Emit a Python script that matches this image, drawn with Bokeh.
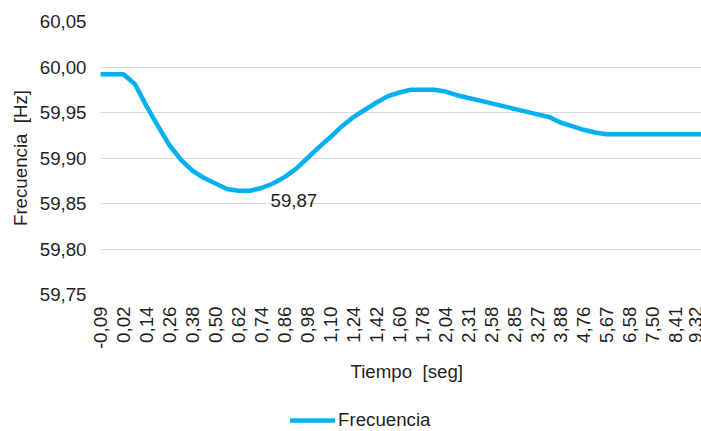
import numpy as np
from bokeh.plotting import figure
from bokeh.layouts import column
from bokeh.models import (FixedTicker, Range1d, Legend, LegendItem, Title,
                          ColumnDataSource)
from bokeh.core.properties import value
from bokeh.embed import file_html
from bokeh.resources import INLINE

# ---- data ----
tiempo_labels = ["-0,09", "0,02", "0,14", "0,26", "0,38", "0,50", "0,62", "0,74",
                 "0,86", "0,98", "1,10", "1,24", "1,42", "1,60", "1,78", "2,04",
                 "2,31", "2,58", "2,85", "3,27", "3,88", "4,76", "5,67", "6,58",
                 "7,50", "8,41", "9,32"]
# frequency sampled twice per labelled category interval
frecuencia = [59.992, 59.992, 59.992, 59.981, 59.957, 59.935, 59.914, 59.898,
              59.886, 59.878, 59.872, 59.866, 59.864, 59.864, 59.867, 59.872,
              59.879, 59.888, 59.900, 59.912, 59.923, 59.935, 59.945, 59.953,
              59.961, 59.968, 59.972, 59.975, 59.975, 59.975, 59.973, 59.969,
              59.966, 59.963, 59.960, 59.957, 59.954, 59.951, 59.948, 59.945,
              59.939, 59.935, 59.931, 59.928, 59.926, 59.926, 59.926, 59.926,
              59.926, 59.926, 59.926, 59.926, 59.926, 59.926]
y_ticks = [59.75, 59.80, 59.85, 59.90, 59.95, 60.00, 60.05]
y_tick_labels = ["59,75", "59,80", "59,85", "59,90", "59,95", "60,00", "60,05"]
min_label = ["59,87"]

FONT = "Liberation Sans"
TXT = "#1f1f1f"
FS = "18.7px"
LINE_COLOR = "#00b0f0"

x_idx = np.arange(len(frecuencia)) / 2.0
src = ColumnDataSource(dict(x=x_idx, y=frecuencia))

p = figure(width=701, height=395, output_backend="svg", toolbar_location=None,
           x_range=Range1d(0, 26.13), y_range=Range1d(59.75, 60.05),
           min_border_left=100, min_border_right=0, min_border_top=21,
           min_border_bottom=101)
p.outline_line_color = None
p.background_fill_color = "white"
p.border_fill_color = "white"

# grid
p.xgrid.grid_line_color = None
p.ygrid.grid_line_color = "#d9d9d9"
p.ygrid.grid_line_width = 1

# y axis
p.yaxis.ticker = FixedTicker(ticks=y_ticks)
p.yaxis.major_label_overrides = {t: l for t, l in zip(y_ticks, y_tick_labels)}
p.yaxis.axis_line_color = None
p.yaxis.major_tick_line_color = None
p.yaxis.minor_tick_line_color = None
p.yaxis.major_tick_out = 0
p.yaxis.major_label_standoff = 14
p.yaxis.major_label_text_font = FONT
p.yaxis.major_label_text_font_size = FS
p.yaxis.major_label_text_color = TXT
p.yaxis.axis_label = "Frecuencia \u00a0[Hz]"
p.yaxis.axis_label_text_font = FONT
p.yaxis.axis_label_text_font_size = FS
p.yaxis.axis_label_text_font_style = "normal"
p.yaxis.axis_label_text_color = TXT
p.yaxis.axis_label_standoff = 6

# x axis (category index axis)
xt = list(range(len(tiempo_labels)))
p.xaxis.ticker = FixedTicker(ticks=xt)
p.xaxis.major_label_overrides = {t: l for t, l in zip(xt, tiempo_labels)}
p.xaxis.major_label_orientation = np.pi / 2
p.xaxis.axis_line_color = None
p.xaxis.major_tick_line_color = None
p.xaxis.minor_tick_line_color = None
p.xaxis.major_tick_out = 0
p.xaxis.major_label_standoff = 12
p.xaxis.major_label_text_font = FONT
p.xaxis.major_label_text_font_size = FS
p.xaxis.major_label_text_color = TXT

# x axis title
t = Title(text="Tiempo \u00a0[seg]", align="left", offset=250,
          text_font=FONT, text_font_size=FS, text_font_style="normal",
          text_color=TXT, standoff=13)
p.add_layout(t, "below")

# line
r = p.line("x", "y", source=src, line_color=LINE_COLOR, line_width=4.5,
           line_join="round", line_cap="round")

# min data label
i_min = int(np.argmin(frecuencia))
p.text(x=[x_idx[i_min]], y=[frecuencia[i_min]], text=min_label,
       x_offset=32, y_offset=10, text_font=value(FONT), text_font_size=FS,
       text_color=TXT, text_align="left", text_baseline="middle")

# legend strip below the chart (frames are aligned with the chart above)
pl = figure(width=701, height=36, output_backend="svg", toolbar_location=None,
            x_range=Range1d(1000, 1001), y_range=Range1d(0, 1),
            x_axis_location=None, y_axis_location=None, min_border=0)
pl.outline_line_color = None
pl.grid.visible = False
pl.background_fill_color = "white"
pl.border_fill_color = "white"
rl = pl.line("x", "y", source=src, line_color=LINE_COLOR, line_width=4.5,
             line_cap="round")
legend = Legend(items=[LegendItem(label="Frecuencia", renderers=[rl])],
                location=(190, 0), orientation="horizontal",
                glyph_width=45, glyph_height=18, label_standoff=3,
                padding=0, margin=0, spacing=0,
                border_line_color=None, background_fill_alpha=0,
                label_text_font=FONT, label_text_font_size=FS,
                label_text_color=TXT)
pl.add_layout(legend)

layout = column(p, pl, spacing=0)
open("out.html", "w").write(file_html(layout, INLINE))
